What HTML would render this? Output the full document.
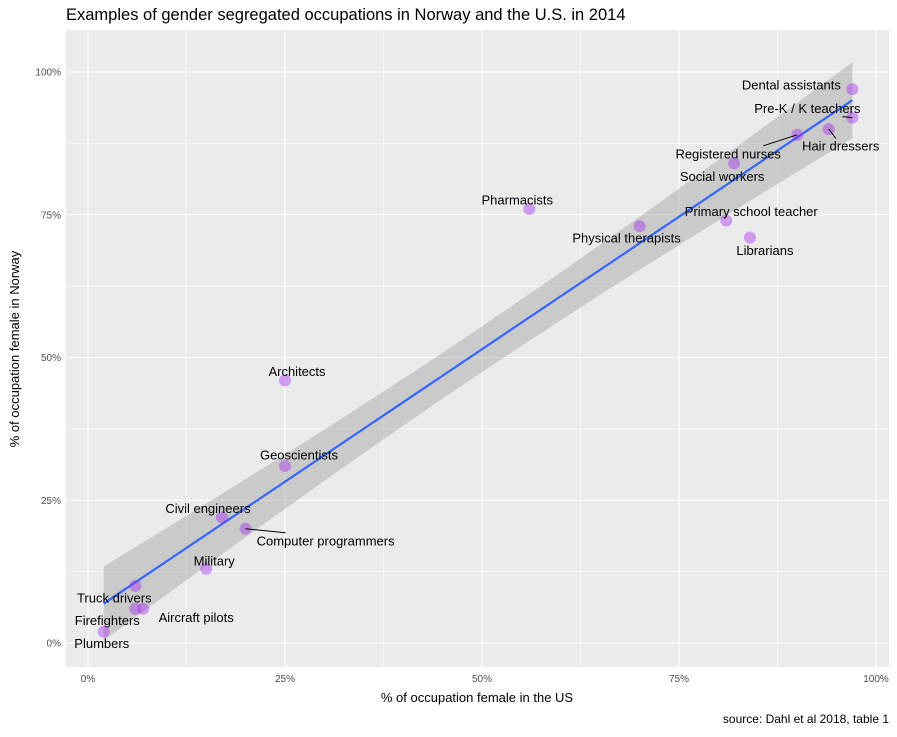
<!DOCTYPE html>
<html><head><meta charset="utf-8"><style>
body{margin:0;background:#fff;font-family:"Liberation Sans",sans-serif}
svg text{font-family:"Liberation Sans",sans-serif}
</style></head><body>
<svg id="chart" width="897" height="732"></svg>
<script>
const names=["Dental assistants","Pre-K / K teachers","Hair dressers","Registered nurses","Social workers","Pharmacists","Physical therapists","Primary school teacher","Librarians","Architects","Geoscientists","Civil engineers","Computer programmers","Military","Truck drivers","Aircraft pilots","Firefighters","Plumbers"];
const usPct=[97,97,94,90,82,56,70,81,84,25,25,17,20,15,6,7,6,2];
const noPct=[97,92,90,89,84,76,73,74,71,46,31,22,20,13,10,6,6,2];
const xTicks=[0,25,50,75,100];
const yTicks=[0,25,50,75,100];
// label layout offsets (px) and whether a leader segment is drawn
const labelDx=[-61,-45,12,-69,-12,-12,-13,25,15,12,14,-14,80,8,-21,53,-28,-2];
const labelDy=[-4,-9,17,19,13,-9,12,-9,13,-9,-11,-9,12,-8,12,9,12,12];
const leader=[0,1,1,1,0,0,0,0,0,0,0,0,1,0,0,0,0,0];

const NS="http://www.w3.org/2000/svg";
const svg=document.getElementById('chart');
function mk(t,a,p){const e=document.createElementNS(NS,t);for(const k in a)e.setAttribute(k,a[k]);(p||svg).appendChild(e);return e;}
const L=66,R=889,T=30,B=667;
const xs=v=>88+v*7.88, ys=v=>643-v*5.71;

const panel=mk('rect',{x:L,y:T,width:R-L,height:B-T,fill:'#ebebeb'});


for(let i=0;i<xTicks.length;i++){
  const g=mk('line',{x1:xs(xTicks[i]),x2:xs(xTicks[i]),y1:T,y2:B,stroke:'#fff','stroke-width':1.1});
  
  if(i<xTicks.length-1){const m=(xTicks[i]+xTicks[i+1])/2;const gm=mk('line',{x1:xs(m),x2:xs(m),y1:T,y2:B,stroke:'#fff','stroke-width':0.5});
  }
  const t=mk('text',{x:xs(xTicks[i]),y:B+15,'font-size':10,fill:'#4d4d4d','text-anchor':'middle'});t.textContent=xTicks[i]+'%';
  
}
for(let i=0;i<yTicks.length;i++){
  const g=mk('line',{x1:L,x2:R,y1:ys(yTicks[i]),y2:ys(yTicks[i]),stroke:'#fff','stroke-width':1.1});
  
  if(i<yTicks.length-1){const m=(yTicks[i]+yTicks[i+1])/2;const gm=mk('line',{x1:L,x2:R,y1:ys(m),y2:ys(m),stroke:'#fff','stroke-width':0.5});
  }
  const t=mk('text',{x:L-5,y:ys(yTicks[i])+3.5,'font-size':10,fill:'#4d4d4d','text-anchor':'end'});t.textContent=yTicks[i]+'%';
  
}
// regression
const n=usPct.length;const mx=usPct.reduce((a,b)=>a+b)/n,my=noPct.reduce((a,b)=>a+b)/n;
let sxx=0,sxy=0;for(let i=0;i<n;i++){sxx+=(usPct[i]-mx)**2;sxy+=(usPct[i]-mx)*(noPct[i]-my);}
const b1=sxy/sxx,b0=my-b1*mx;let sse=0;for(let i=0;i<n;i++)sse+=(noPct[i]-b0-b1*usPct[i])**2;
const s=Math.sqrt(sse/(n-2)),tq=2.12;
const x0=Math.min(...usPct),x1=Math.max(...usPct);
let up=[],lo=[];for(let k=0;k<=60;k++){const x=x0+(x1-x0)*k/60;const y=b0+b1*x;const se=s*Math.sqrt(1/n+(x-mx)**2/sxx);
up.push(xs(x)+','+ys(y+tq*se));lo.unshift(xs(x)+','+ys(y-tq*se));}
const band=mk('polygon',{points:up.concat(lo).join(' '),fill:'#999','fill-opacity':0.4});

const line=mk('line',{x1:xs(x0),y1:ys(b0+b1*x0),x2:xs(x1),y2:ys(b0+b1*x1),stroke:'#3366ff','stroke-width':2.2});

for(let i=0;i<n;i++){
  const px=xs(usPct[i]),py=ys(noPct[i]);
  const c=mk('circle',{cx:px,cy:py,r:6,fill:'#a020f0','fill-opacity':0.4});
  
  const lx=px+labelDx[i],ly=py+labelDy[i];
  if(leader[i]){const sx=lx+(labelDx[i]>40?-40:labelDx[i]<-40?35:-4*Math.sign(labelDx[i]||1));
    const ln=mk('line',{x1:px,y1:py,x2:Math.abs(labelDx[i])>40?sx:px+labelDx[i]*0.6,y2:Math.abs(labelDx[i])>40?ly-8*Math.sign(labelDy[i]):py+labelDy[i]*0.55,stroke:'#000','stroke-width':1});
    }
  const t=mk('text',{x:lx,y:ly+4.5,'font-size':13,fill:'#000','text-anchor':'middle'});t.textContent=names[i];
  
}
const ti=mk('text',{x:66,y:20,'font-size':16.5,fill:'#000'});ti.textContent='Examples of gender segregated occupations in Norway and the U.S. in 2014';

const xt=mk('text',{x:477,y:702,'font-size':13,fill:'#000','text-anchor':'middle'});xt.textContent='% of occupation female in the US';

const yt=mk('text',{x:19,y:349,'font-size':13,fill:'#000','text-anchor':'middle',transform:'rotate(-90 19 349)'});yt.textContent='% of occupation female in Norway';

const cap=mk('text',{x:889,y:723,'font-size':12,fill:'#000','text-anchor':'end'});cap.textContent='source: Dahl et al 2018, table 1';

</script>
</body></html>
